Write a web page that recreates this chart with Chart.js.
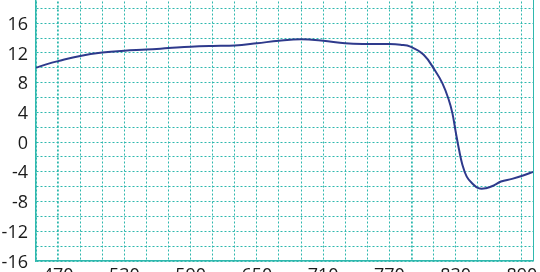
<!DOCTYPE html>
<html>
<head>
<meta charset="utf-8">
<script src="https://cdn.jsdelivr.net/npm/chart.js@4/dist/chart.umd.min.js"></script>
<style>
  html, body { margin: 0; padding: 0; width: 540px; height: 272px; overflow: hidden; background: #ffffff; }
  #wrap { position: absolute; left: 0; top: -30px; width: 540px; height: 330px; }
</style>
</head>
<body>
<div id="wrap"><canvas id="c"></canvas></div>
<script>
// Wavelength (x) values
const wavelengths = [450, 460, 470, 490, 510, 530, 550, 570, 590, 610, 630, 650, 670, 690, 710, 730, 750, 770, 780, 789, 801, 811, 818, 823.5, 827, 830, 833, 836, 840, 844.6, 850.6, 857.5, 865, 871, 881, 891, 900];
// Series values (y)
const values = [10.0, 10.5, 10.9, 11.6, 12.05, 12.3, 12.45, 12.65, 12.85, 12.95, 13.0, 13.3, 13.65, 13.85, 13.65, 13.3, 13.2, 13.2, 13.1, 12.85, 11.75, 9.7, 7.9, 5.8, 3.9, 1.4, -1.0, -3.0, -4.65, -5.5, -6.2, -6.2, -5.8, -5.3, -4.95, -4.5, -4.0];
// Tick labels
const xTickLabels = [470, 530, 590, 650, 710, 770, 830, 890];
const yTickLabels = [-16, -12, -8, -4, 0, 4, 8, 12, 16, 20];
// Axis ranges and grid spacing
const xRange = [450, 900];
const xGridStep = 20;
const yRange = [-16, 20];
const yGridStep = 2;

const gridColor = '#2fb8ae';
const points = wavelengths.map((x, i) => ({ x: x, y: values[i] }));

new Chart(document.getElementById('c'), {
  type: 'line',
  data: {
    datasets: [{
      data: points,
      borderColor: '#2e3a8c',
      borderWidth: 2,
      pointRadius: 0,
      fill: false,
      tension: 0.4
    }]
  },
  options: {
    responsive: true,
    maintainAspectRatio: false,
    animation: false,
    layout: { padding: { top: 23.5, right: 7, left: 0, bottom: 0 } },
    plugins: { legend: { display: false }, tooltip: { enabled: false } },
    scales: {
      x: {
        type: 'linear',
        min: xRange[0],
        max: xRange[1],
        afterBuildTicks: s => {
          const t = [];
          for (let v = xRange[0]; v <= xRange[1]; v += xGridStep) t.push({ value: v });
          if (t[t.length - 1].value !== xRange[1]) t.push({ value: xRange[1] });
          s.ticks = t;
        },
        afterFit: s => { s.height = 39; },
        ticks: {
          autoSkip: false,
          maxRotation: 0,
          padding: 4,
          color: '#1a1a1a',
          font: { family: 'Open Sans', size: 18 },
          callback: v => xTickLabels.includes(v) ? String(v) : ''
        },
        grid: {
          color: gridColor,
          lineWidth: ctx => (ctx.tick && (ctx.tick.value === 470 || ctx.tick.value === 790)) ? 1.8 : 1,
          drawTicks: false
        },
        border: {
          display: true,
          color: gridColor,
          width: 1.5,
          dash: ctx => (ctx.tick && ctx.tick.value === xRange[1]) ? [] : [2, 2]
        }
      },
      y: {
        min: yRange[0],
        max: yRange[1],
        afterFit: s => { s.width = 36; },
        ticks: {
          stepSize: yGridStep,
          autoSkip: false,
          padding: 8,
          labelOffset: 1.5,
          color: '#1a1a1a',
          font: { family: 'Open Sans', size: 18 },
          callback: v => yTickLabels.includes(v) ? String(v) : ''
        },
        grid: {
          color: gridColor,
          lineWidth: 1,
          drawTicks: false
        },
        border: {
          display: true,
          color: gridColor,
          width: 1.5,
          dash: [2, 2]
        }
      }
    }
  }
});
</script>
</body>
</html>
